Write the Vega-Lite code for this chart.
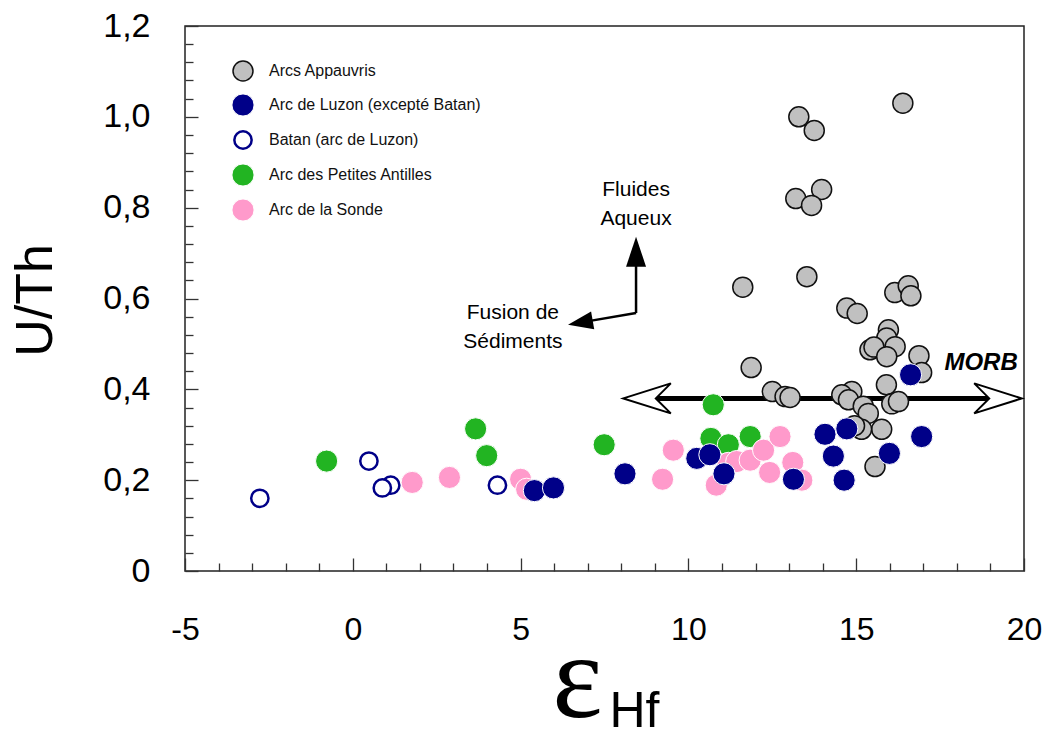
{
  "$schema": "https://vega.github.io/schema/vega-lite/v6.json",
  "width": 839,
  "height": 545,
  "autosize": {"type": "none"},
  "padding": {"left": 185, "top": 26, "right": 18, "bottom": 171},
  "background": "white",
  "config": {
    "view": {"stroke": "#222222", "strokeWidth": 1.5},
    "axis": {"grid": false, "domain": false, "labelFont": "Liberation Sans", "titleFont": "Liberation Sans", "labelColor": "#000000", "titleColor": "#000000", "tickColor": "#333333", "tickWidth": 1.3}
  },
  "resolve": {"axis": {"x": "independent", "y": "independent"}},
  "layer": [
    {
      "data": {"values": [{"x1": 9.0, "x2": 19.0, "y": 0.38}]},
      "mark": {"type": "rule", "strokeWidth": 5, "color": "#000000"},
      "encoding": {
        "x": {"field": "x1", "type": "quantitative", "scale": {"domain": [-5, 20], "nice": false, "zero": false},
          "axis": {"orient": "bottom", "values": [-4,-3,-2,-1,1,2,3,4,6,7,8,9,11,12,13,14,16,17,18,19], "labels": false, "tickSize": -8,
            "title": "Hf", "titleFont": "Liberation Sans", "titleFontSize": 50, "titleFontWeight": "normal", "titleX": 449, "titleY": 155, "titleBaseline": "alphabetic", "titleAlign": "center", "titleAngle": 0}},
        "x2": {"field": "x2"},
        "y": {"field": "y", "type": "quantitative", "scale": {"domain": [0, 1.2], "nice": false, "zero": false},
          "axis": {"orient": "left", "values": [0.04,0.08,0.12,0.16,0.24,0.28,0.32,0.36,0.44,0.48,0.52,0.56,0.64,0.68,0.72,0.76,0.84,0.88,0.92,0.96,1.04,1.08,1.12,1.16], "labels": false, "tickSize": -8, "title": null}}
      }
    },
    {
      "data": {"values": [{"x": 8.805, "y": 0.38}]},
      "mark": {"type": "point", "shape": "M -1 0 L 0.9 -0.6 L 0.3 0 L 0.9 0.6 Z", "size": 2500, "filled": true, "fill": "#ffffff", "stroke": "#000000", "strokeWidth": 2, "opacity": 1},
      "encoding": {
        "x": {"field": "x", "type": "quantitative", "scale": {"domain": [-5, 20], "nice": false, "zero": false}, "axis": null},
        "y": {"field": "y", "type": "quantitative", "scale": {"domain": [0, 1.2], "nice": false, "zero": false}, "axis": null}
      }
    },
    {
      "data": {"values": [{"x": 19.187, "y": 0.38}]},
      "mark": {"type": "point", "shape": "M 1 0 L -0.9 -0.6 L -0.3 0 L -0.9 0.6 Z", "size": 2500, "filled": true, "fill": "#ffffff", "stroke": "#000000", "strokeWidth": 2, "opacity": 1},
      "encoding": {
        "x": {"field": "x", "type": "quantitative", "scale": {"domain": [-5, 20], "nice": false, "zero": false}, "axis": null},
        "y": {"field": "y", "type": "quantitative", "scale": {"domain": [0, 1.2], "nice": false, "zero": false}, "axis": null}
      }
    },
    {
      "data": {"values": [{"x": 18.72, "y": 0.458, "t": "MORB"}]},
      "mark": {"type": "text", "font": "Liberation Sans", "fontSize": 24, "fontWeight": "bold", "fontStyle": "italic", "align": "center", "baseline": "middle", "color": "#000000"},
      "encoding": {
        "x": {"field": "x", "type": "quantitative", "scale": {"domain": [-5, 20], "nice": false, "zero": false}, "axis": null},
        "y": {"field": "y", "type": "quantitative", "scale": {"domain": [0, 1.2], "nice": false, "zero": false}, "axis": null},
        "text": {"field": "t"}
      }
    },
    {
      "data": {"values": [{"x": 8.44, "y": 0.568, "x2": 8.44, "y2": 0.7}, {"x": 8.44, "y": 0.568, "x2": 6.85, "y2": 0.548}]},
      "mark": {"type": "rule", "strokeWidth": 2.5, "color": "#000000"},
      "encoding": {
        "x": {"field": "x", "type": "quantitative", "scale": {"domain": [-5, 20], "nice": false, "zero": false}, "axis": null},
        "y": {"field": "y", "type": "quantitative", "scale": {"domain": [0, 1.2], "nice": false, "zero": false}, "axis": null},
        "x2": {"field": "x2"},
        "y2": {"field": "y2"}
      }
    },
    {
      "data": {"values": [{"x": 8.44, "y": 0.703}]},
      "mark": {"type": "point", "shape": "M 0 -1 L 0.667 1 L -0.667 1 Z", "size": 900, "filled": true, "fill": "#000000", "strokeWidth": 0, "opacity": 1},
      "encoding": {
        "x": {"field": "x", "type": "quantitative", "scale": {"domain": [-5, 20], "nice": false, "zero": false}, "axis": null},
        "y": {"field": "y", "type": "quantitative", "scale": {"domain": [0, 1.2], "nice": false, "zero": false}, "axis": null}
      }
    },
    {
      "data": {"values": [{"x": 6.78, "y": 0.547}]},
      "mark": {"type": "point", "shape": "M -1 0 L 1 -0.72 L 1 0.72 Z", "size": 625, "angle": 350, "filled": true, "fill": "#000000", "strokeWidth": 0, "opacity": 1},
      "encoding": {
        "x": {"field": "x", "type": "quantitative", "scale": {"domain": [-5, 20], "nice": false, "zero": false}, "axis": null},
        "y": {"field": "y", "type": "quantitative", "scale": {"domain": [0, 1.2], "nice": false, "zero": false}, "axis": null}
      }
    },
    {
      "data": {"values": [{"x": 8.44, "y": 0.84, "t": "Fluides\nAqueux"}, {"x": 4.77, "y": 0.568, "t": "Fusion de\nSédiments"}]},
      "mark": {"type": "text", "font": "Liberation Sans", "fontSize": 21, "lineBreak": "\n", "lineHeight": 29, "align": "center", "baseline": "middle", "color": "#000000"},
      "encoding": {
        "x": {"field": "x", "type": "quantitative", "scale": {"domain": [-5, 20], "nice": false, "zero": false}, "axis": null},
        "y": {"field": "y", "type": "quantitative", "scale": {"domain": [0, 1.2], "nice": false, "zero": false}, "axis": null},
        "text": {"field": "t"}
      }
    },
    {
      "data": {"values": [
        {"groupe": "Arcs Appauvris", "ehf": 16.39, "uth": 1.03},
        {"groupe": "Arcs Appauvris", "ehf": 13.29, "uth": 1.0},
        {"groupe": "Arcs Appauvris", "ehf": 13.75, "uth": 0.97},
        {"groupe": "Arcs Appauvris", "ehf": 13.97, "uth": 0.84},
        {"groupe": "Arcs Appauvris", "ehf": 13.2, "uth": 0.82},
        {"groupe": "Arcs Appauvris", "ehf": 13.67, "uth": 0.805},
        {"groupe": "Arcs Appauvris", "ehf": 11.62, "uth": 0.625},
        {"groupe": "Arcs Appauvris", "ehf": 13.53, "uth": 0.648},
        {"groupe": "Arcs Appauvris", "ehf": 16.15, "uth": 0.613},
        {"groupe": "Arcs Appauvris", "ehf": 16.55, "uth": 0.628},
        {"groupe": "Arcs Appauvris", "ehf": 16.63, "uth": 0.606},
        {"groupe": "Arcs Appauvris", "ehf": 14.72, "uth": 0.579},
        {"groupe": "Arcs Appauvris", "ehf": 15.03, "uth": 0.567},
        {"groupe": "Arcs Appauvris", "ehf": 11.87, "uth": 0.448},
        {"groupe": "Arcs Appauvris", "ehf": 15.96, "uth": 0.531},
        {"groupe": "Arcs Appauvris", "ehf": 15.91, "uth": 0.513},
        {"groupe": "Arcs Appauvris", "ehf": 16.16, "uth": 0.494},
        {"groupe": "Arcs Appauvris", "ehf": 15.41, "uth": 0.487},
        {"groupe": "Arcs Appauvris", "ehf": 15.53, "uth": 0.493},
        {"groupe": "Arcs Appauvris", "ehf": 15.91, "uth": 0.472},
        {"groupe": "Arcs Appauvris", "ehf": 16.87, "uth": 0.474},
        {"groupe": "Arcs Appauvris", "ehf": 16.95, "uth": 0.437},
        {"groupe": "Arcs Appauvris", "ehf": 15.9, "uth": 0.41},
        {"groupe": "Arcs Appauvris", "ehf": 14.87, "uth": 0.395},
        {"groupe": "Arcs Appauvris", "ehf": 14.57, "uth": 0.388},
        {"groupe": "Arcs Appauvris", "ehf": 14.77, "uth": 0.377},
        {"groupe": "Arcs Appauvris", "ehf": 15.21, "uth": 0.363},
        {"groupe": "Arcs Appauvris", "ehf": 15.36, "uth": 0.347},
        {"groupe": "Arcs Appauvris", "ehf": 16.06, "uth": 0.368},
        {"groupe": "Arcs Appauvris", "ehf": 16.26, "uth": 0.373},
        {"groupe": "Arcs Appauvris", "ehf": 15.76, "uth": 0.312},
        {"groupe": "Arcs Appauvris", "ehf": 15.16, "uth": 0.312},
        {"groupe": "Arcs Appauvris", "ehf": 14.95, "uth": 0.32},
        {"groupe": "Arcs Appauvris", "ehf": 15.56, "uth": 0.23},
        {"groupe": "Arcs Appauvris", "ehf": 12.5, "uth": 0.395},
        {"groupe": "Arcs Appauvris", "ehf": 12.88, "uth": 0.384},
        {"groupe": "Arcs Appauvris", "ehf": 13.03, "uth": 0.382},
        {"groupe": "Batan (arc de Luzon)", "ehf": -2.77, "uth": 0.16},
        {"groupe": "Batan (arc de Luzon)", "ehf": 0.48, "uth": 0.242},
        {"groupe": "Batan (arc de Luzon)", "ehf": 1.13, "uth": 0.189},
        {"groupe": "Batan (arc de Luzon)", "ehf": 0.88, "uth": 0.183},
        {"groupe": "Batan (arc de Luzon)", "ehf": 4.31, "uth": 0.189},
        {"groupe": "Arc des Petites Antilles", "ehf": -0.78, "uth": 0.242},
        {"groupe": "Arc des Petites Antilles", "ehf": 3.66, "uth": 0.313},
        {"groupe": "Arc des Petites Antilles", "ehf": 3.99, "uth": 0.254},
        {"groupe": "Arc des Petites Antilles", "ehf": 7.49, "uth": 0.278},
        {"groupe": "Arc des Petites Antilles", "ehf": 10.74, "uth": 0.366},
        {"groupe": "Arc des Petites Antilles", "ehf": 10.67, "uth": 0.292},
        {"groupe": "Arc des Petites Antilles", "ehf": 11.19, "uth": 0.278},
        {"groupe": "Arc des Petites Antilles", "ehf": 11.84, "uth": 0.296},
        {"groupe": "Arc de la Sonde", "ehf": 1.77, "uth": 0.195},
        {"groupe": "Arc de la Sonde", "ehf": 2.88, "uth": 0.206},
        {"groupe": "Arc de la Sonde", "ehf": 5.0, "uth": 0.202},
        {"groupe": "Arc de la Sonde", "ehf": 5.18, "uth": 0.18},
        {"groupe": "Arc de la Sonde", "ehf": 9.55, "uth": 0.266},
        {"groupe": "Arc de la Sonde", "ehf": 9.23, "uth": 0.202},
        {"groupe": "Arc de la Sonde", "ehf": 10.83, "uth": 0.189},
        {"groupe": "Arc de la Sonde", "ehf": 11.19, "uth": 0.237},
        {"groupe": "Arc de la Sonde", "ehf": 11.44, "uth": 0.241},
        {"groupe": "Arc de la Sonde", "ehf": 11.84, "uth": 0.244},
        {"groupe": "Arc de la Sonde", "ehf": 12.24, "uth": 0.266},
        {"groupe": "Arc de la Sonde", "ehf": 12.73, "uth": 0.296},
        {"groupe": "Arc de la Sonde", "ehf": 12.42, "uth": 0.217},
        {"groupe": "Arc de la Sonde", "ehf": 13.11, "uth": 0.239},
        {"groupe": "Arc de la Sonde", "ehf": 13.38, "uth": 0.2},
        {"groupe": "Arc de Luzon (excepté Batan)", "ehf": 5.41, "uth": 0.177},
        {"groupe": "Arc de Luzon (excepté Batan)", "ehf": 5.98, "uth": 0.183},
        {"groupe": "Arc de Luzon (excepté Batan)", "ehf": 8.11, "uth": 0.214},
        {"groupe": "Arc de Luzon (excepté Batan)", "ehf": 10.25, "uth": 0.248},
        {"groupe": "Arc de Luzon (excepté Batan)", "ehf": 10.64, "uth": 0.256},
        {"groupe": "Arc de Luzon (excepté Batan)", "ehf": 11.06, "uth": 0.214},
        {"groupe": "Arc de Luzon (excepté Batan)", "ehf": 13.13, "uth": 0.202},
        {"groupe": "Arc de Luzon (excepté Batan)", "ehf": 14.07, "uth": 0.301},
        {"groupe": "Arc de Luzon (excepté Batan)", "ehf": 14.72, "uth": 0.313},
        {"groupe": "Arc de Luzon (excepté Batan)", "ehf": 14.32, "uth": 0.253},
        {"groupe": "Arc de Luzon (excepté Batan)", "ehf": 14.64, "uth": 0.2},
        {"groupe": "Arc de Luzon (excepté Batan)", "ehf": 15.99, "uth": 0.259},
        {"groupe": "Arc de Luzon (excepté Batan)", "ehf": 16.95, "uth": 0.296},
        {"groupe": "Arc de Luzon (excepté Batan)", "ehf": 16.62, "uth": 0.432}
      ]},
      "mark": {"type": "point", "shape": "circle", "filled": true, "opacity": 1},
      "encoding": {
        "x": {"field": "ehf", "type": "quantitative", "scale": {"domain": [-5, 20], "nice": false, "zero": false},
          "axis": {"orient": "bottom", "values": [-5, 0, 5, 10, 15, 20], "tickSize": -13, "labelFontSize": 32, "labelPadding": 56, "labelFlush": false, "labelOverlap": false,
            "labelExpr": "'' + datum.value",
            "title": "ε", "titleFont": "Liberation Serif", "titleFontSize": 120, "titleFontWeight": "normal", "titleX": 392, "titleY": 145, "titleBaseline": "alphabetic", "titleAlign": "center", "titleAngle": 0}},
        "y": {"field": "uth", "type": "quantitative", "scale": {"domain": [0, 1.2], "nice": false, "zero": false},
          "axis": {"orient": "left", "values": [0, 0.2, 0.4, 0.6, 0.8, 1.0, 1.2], "tickSize": -13, "labelFontSize": 34, "labelPadding": 48, "labelOverlap": false, "labelFlush": false,
            "labelExpr": "datum.value == 0 ? '0' : replace(format(datum.value, '.1f'), '.', ',')",
            "title": "U/Th", "titleFontSize": 52, "titleFontWeight": "normal", "titleX": -150, "titleY": 274, "titleBaseline": "middle", "titleAlign": "center", "titleAngle": -90}},
        "fill": {"field": "groupe", "type": "nominal",
          "scale": {"domain": ["Arcs Appauvris", "Arc de Luzon (excepté Batan)", "Batan (arc de Luzon)", "Arc des Petites Antilles", "Arc de la Sonde"], "range": ["#c0c0c0", "#000088", "#ffffff", "#22b422", "#ff9acb"]},
          "legend": {"orient": "none", "legendX": 46, "legendY": 34, "title": null, "labelFont": "Liberation Sans", "labelFontSize": 16, "labelColor": "#111111", "labelLimit": 0, "symbolType": "circle", "rowPadding": 7, "labelOffset": 14, "padding": 0, "symbolOpacity": 1}},
        "stroke": {"field": "groupe", "type": "nominal",
          "scale": {"domain": ["Arcs Appauvris", "Arc de Luzon (excepté Batan)", "Batan (arc de Luzon)", "Arc des Petites Antilles", "Arc de la Sonde"], "range": ["#111111", "#ffffff", "#000088", "#ffffff", "#ffffff"]}},
        "strokeWidth": {"field": "groupe", "type": "nominal",
          "scale": {"type": "ordinal", "domain": ["Arcs Appauvris", "Arc de Luzon (excepté Batan)", "Batan (arc de Luzon)", "Arc des Petites Antilles", "Arc de la Sonde"], "range": [1.5, 1, 2.5, 1, 1]}},
        "size": {"field": "groupe", "type": "nominal",
          "scale": {"type": "ordinal", "domain": ["Arcs Appauvris", "Arc de Luzon (excepté Batan)", "Batan (arc de Luzon)", "Arc des Petites Antilles", "Arc de la Sonde"], "range": [400, 490, 300, 490, 490]}}
      }
    }
  ]
}
